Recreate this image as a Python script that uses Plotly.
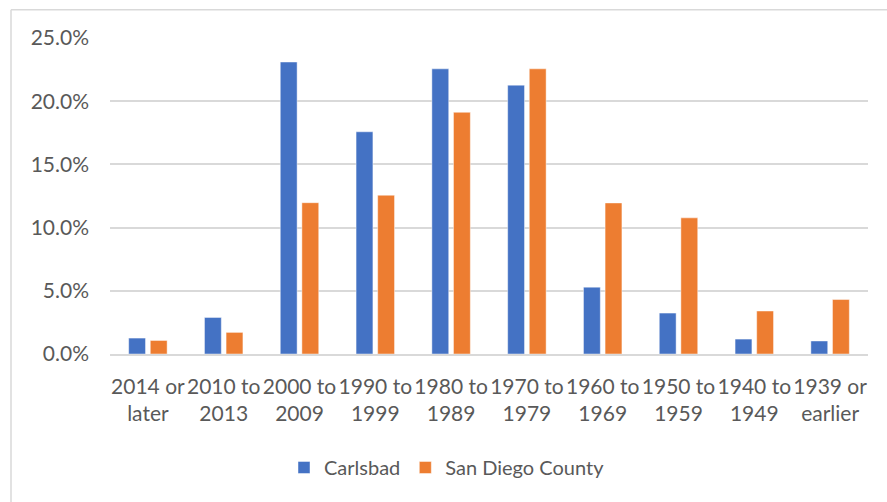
import plotly.graph_objects as go

categories = ["2014 or<br>later", "2010 to<br>2013", "2000 to<br>2009", "1990 to<br>1999",
              "1980 to<br>1989", "1970 to<br>1979", "1960 to<br>1969", "1950 to<br>1959",
              "1940 to<br>1949", "1939 or<br>earlier"]
carlsbad = [0.0126, 0.0289, 0.2310, 0.1758, 0.2256, 0.2127, 0.0529, 0.0324, 0.0118, 0.0103]
san_diego = [0.0107, 0.0171, 0.1197, 0.1256, 0.1912, 0.2256, 0.1195, 0.1077, 0.0340, 0.0431]
y_ticks = [0, 0.05, 0.10, 0.15, 0.20, 0.25]

FONT = "Lato, 'Liberation Sans', sans-serif"
TXT = "#595959"
GRID = "#d9d9d9"

fig = go.Figure()
fig.add_trace(go.Bar(x=categories, y=carlsbad, name="Carlsbad",
                     marker=dict(color="#4472c4", line=dict(color="rgba(255,255,255,0.45)", width=1))))
fig.add_trace(go.Bar(x=categories, y=san_diego, name="San Diego County",
                     marker=dict(color="#ed7d31", line=dict(color="rgba(255,255,255,0.45)", width=1))))

L, R, T, B = 110, 868, 37.7, 354.3
W, H = 887, 502

fig.update_layout(
    width=W, height=H,
    margin=dict(l=L, r=W - R, t=T, b=H - B, pad=0),
    paper_bgcolor="white", plot_bgcolor="white",
    barmode="group", bargap=0.43, bargroupgap=0.22,
    font=dict(family=FONT, size=21, color=TXT),
    showlegend=True,
    legend=dict(orientation="h", x=(447 - L) / (R - L), xanchor="center",
                y=-(468 - B) / (B - T), yanchor="middle",
                font=dict(family=FONT, size=20, color=TXT),
                itemwidth=30, traceorder="normal"),
    xaxis=dict(showgrid=False, showline=True, linecolor=GRID, linewidth=1.5,
               ticks="", tickfont=dict(family=FONT, size=21, color=TXT),
               tickangle=0, ticklabelstandoff=13),
    yaxis=dict(range=[0, 0.25], tickvals=y_ticks, tickformat=".1%",
               showgrid=True, gridcolor=GRID, gridwidth=1.5, zeroline=False,
               showline=False, ticks="", tickfont=dict(family=FONT, size=21, color=TXT),
               ticklabelstandoff=20),
)

# chart-area border (left and top edges visible)
bx = (11 - L) / (R - L)
by = (B - 9.5) / (B - T)
fig.add_shape(type="line", xref="paper", yref="paper", x0=bx, x1=bx, y0=-1, y1=by,
              line=dict(color=GRID, width=1.5))
fig.add_shape(type="line", xref="paper", yref="paper", x0=bx, x1=1.2, y0=by, y1=by,
              line=dict(color=GRID, width=1.5))

fig.write_html("out.html", config={"displayModeBar": False},
               post_script="document.body.style.margin='0';")
